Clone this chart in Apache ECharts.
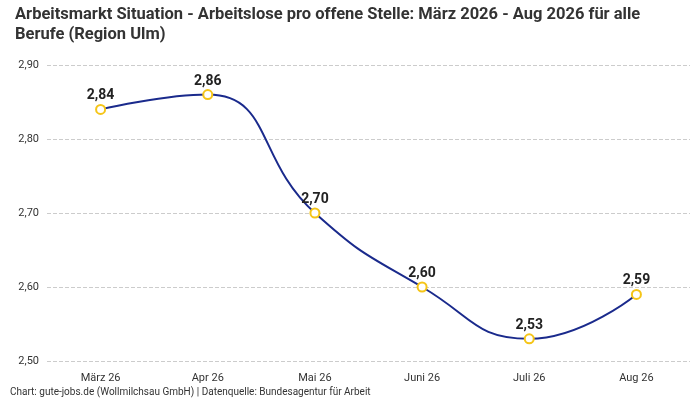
<!DOCTYPE html>
<html><head><meta charset="utf-8">
<script src="https://cdn.jsdelivr.net/npm/echarts@6/dist/echarts.min.js"></script>
<style>html,body{margin:0;padding:0;background:#fff}#c{width:700px;height:400px}</style>
</head><body><div id="c"></div>
<script>
const categories = ['März 26','Apr 26','Mai 26','Juni 26','Juli 26','Aug 26'];
const values = [2.84, 2.86, 2.70, 2.60, 2.53, 2.59];
const chart = echarts.init(document.getElementById('c'));
const fmt = v => v.toFixed(2).replace('.', ',');
chart.setOption({
  animation:false,
  textStyle:{fontFamily:'Roboto'},
  title:{text:'Arbeitsmarkt Situation - Arbeitslose pro offene Stelle: März 2026 - Aug 2026 für alle\nBerufe (Region Ulm)',
    left:10, top:0, textStyle:{fontSize:16.5, fontWeight:'bold', color:'#333', lineHeight:20}},
  graphic:[{type:'text', left:10, top:387, style:{text:'Chart: gute-jobs.de (Wollmilchsau GmbH) | Datenquelle: Bundesagentur für Arbeit', fontSize:10, fill:'#333', fontFamily:'Roboto'}}],
  grid:{left:47, right:10, top:65, bottom:39},
  xAxis:{type:'category', data:categories, boundaryGap:true,
    axisLine:{show:false}, axisTick:{show:false},
    axisLabel:{color:'#333', fontSize:11, margin:12}},
  yAxis:{type:'value', min:2.5, max:2.9, interval:0.1,
    axisLabel:{formatter:v=>fmt(v), color:'#333', fontSize:11},
    splitLine:{lineStyle:{type:'dashed', color:'#ccc'}}},
  series:[{type:'line', data:values, smooth:true,
    lineStyle:{color:'#1a2a8c', width:2},
    itemStyle:{color:'#fff', borderColor:'#f5c518', borderWidth:2},
    symbol:'circle', symbolSize:9,
    label:{show:true, position:'top', formatter:p=>fmt(p.value), fontSize:14, fontWeight:'bold', color:'#222', distance:1}}]
});
</script></body></html>
